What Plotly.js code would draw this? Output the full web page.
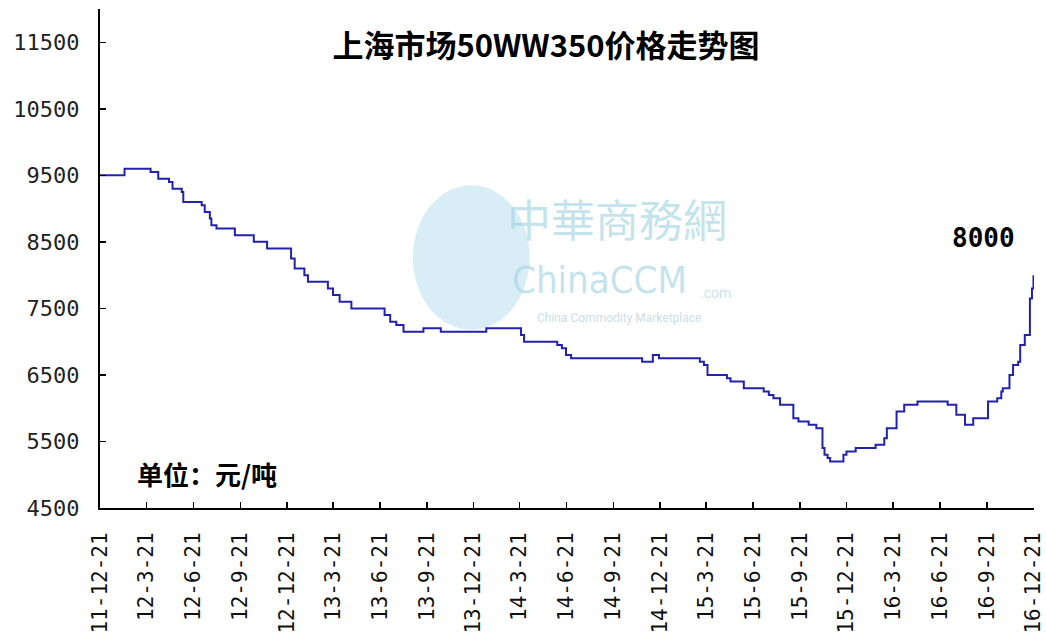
<!DOCTYPE html>
<html>
<head>
<meta charset="utf-8">
<script src="https://cdn.plot.ly/plotly-3.0.1.min.js"></script>
<style>html,body{margin:0;padding:0;background:#fff;}#chart{width:1046px;height:641px;}</style>
</head>
<body>
<div id="chart"></div>
<script>
// Step-change dates and Shanghai 50WW350 prices (yuan/ton)
const dates = [
  '2011-12-21','2012-02-07','2012-03-29','2012-04-13','2012-05-04','2012-05-11','2012-05-29','2012-06-01',
  '2012-07-07','2012-07-13','2012-07-23','2012-07-26','2012-08-05','2012-09-10','2012-10-17','2012-11-12',
  '2012-12-29','2013-01-05','2013-01-24','2013-01-31','2013-03-11','2013-03-21','2013-04-03','2013-04-26',
  '2013-06-30','2013-07-11','2013-07-23','2013-08-06','2013-09-14','2013-10-18','2014-01-15','2014-03-24',
  '2014-03-30','2014-06-03','2014-06-12','2014-06-20','2014-06-30','2014-11-16','2014-12-07','2014-12-19',
  '2015-03-09','2015-03-17','2015-03-24','2015-05-01','2015-05-08','2015-06-03','2015-07-12','2015-07-22',
  '2015-07-31','2015-08-13','2015-09-08','2015-09-18','2015-10-08','2015-10-23','2015-11-04','2015-11-08',
  '2015-11-14','2015-11-19','2015-12-15','2015-12-21','2016-01-08','2016-02-16','2016-03-04','2016-03-09',
  '2016-03-28','2016-04-12','2016-05-08','2016-07-06','2016-07-23','2016-08-09','2016-08-25','2016-09-23',
  '2016-10-11','2016-10-19','2016-10-22','2016-11-04','2016-11-11','2016-11-21','2016-11-25','2016-12-04',
  '2016-12-14','2016-12-18','2016-12-21'
];
const prices = [
  9500,9600,9550,9450,9400,9300,9250,9100,
  9050,8950,8850,8750,8700,8600,8500,8400,
  8250,8100,8000,7900,7800,7700,7600,7500,
  7400,7300,7250,7150,7200,7150,7200,7100,
  7000,6950,6900,6800,6750,6700,6800,6750,
  6700,6650,6500,6450,6400,6300,6250,6200,
  6150,6050,5850,5800,5750,5700,5400,5300,
  5250,5200,5300,5350,5400,5450,5550,5700,
  5950,6050,6100,6050,5900,5750,5850,6100,
  6150,6250,6300,6500,6650,6700,6950,7100,
  7650,7800,8000
];
const xTickVals = ['2011-12-21','2012-03-21','2012-06-21','2012-09-21','2012-12-21','2013-03-21','2013-06-21',
  '2013-09-21','2013-12-21','2014-03-21','2014-06-21','2014-09-21','2014-12-21','2015-03-21','2015-06-21',
  '2015-09-21','2015-12-21','2016-03-21','2016-06-21','2016-09-21','2016-12-21'];
const xTickText = ['11-12-21','12-3-21','12-6-21','12-9-21','12-12-21','13-3-21','13-6-21',
  '13-9-21','13-12-21','14-3-21','14-6-21','14-9-21','14-12-21','15-3-21','15-6-21',
  '15-9-21','15-12-21','16-3-21','16-6-21','16-9-21','16-12-21'];
const yTickVals = [4500,5500,6500,7500,8500,9500,10500,11500];
const titleText = '上海市场50WW350价格走势图';
const unitText = '单位：元/吨';
const lastLabel = '8000';

const monoFont = '"DejaVu Sans Mono", "Liberation Mono", monospace';
const cjkFont = '"Noto Sans CJK SC", "Noto Sans", sans-serif';
const wmColor = 'rgba(170,215,228,0.7)';

const trace = {
  x: dates, y: prices, type: 'scatter', mode: 'lines',
  line: {shape: 'hv', color: '#2222aa', width: 2},
  hoverinfo: 'x+y'
};

const layout = {
  width: 1046, height: 641,
  margin: {l: 100, r: 12, t: 9, b: 133},
  paper_bgcolor: '#ffffff', plot_bgcolor: 'rgba(0,0,0,0)',
  showlegend: false,
  title: {
    text: '<b>' + titleText + '</b>',
    font: {family: cjkFont, size: 31, color: '#000'},
    x: 0.522, xref: 'container', xanchor: 'center',
    y: 1 - 46/641, yref: 'container', yanchor: 'middle'
  },
  xaxis: {
    type: 'date',
    range: ['2011-12-21', '2016-12-22'],
    tickmode: 'array', tickvals: xTickVals, ticktext: xTickText,
    tickangle: -90,
    ticks: 'inside', ticklen: 6, tickwidth: 1.5, tickcolor: '#000',
    showline: true, linecolor: '#000', linewidth: 2,
    showgrid: false, zeroline: false,
    ticklabelstandoff: 14,
    ticklabeloverflow: 'allow',
    tickfont: {family: monoFont, size: 21, color: '#111'}
  },
  yaxis: {
    range: [4500, 12000],
    tickmode: 'array', tickvals: yTickVals,
    ticktext: yTickVals.map(String),
    ticks: 'inside', ticklen: 6, tickwidth: 1.5, tickcolor: '#000',
    showline: true, linecolor: '#000', linewidth: 2,
    showgrid: false, zeroline: false,
    ticklabelstandoff: 14,
    tickfont: {family: monoFont, size: 22, color: '#222'}
  },
  shapes: [
    {type: 'circle', xref: 'paper', yref: 'paper', layer: 'below',
     x0: 0.335, x1: 0.46, y0: 0.357, y1: 0.647,
     fillcolor: 'rgba(160,210,232,0.4)', line: {width: 0}}
  ],
  annotations: [
    {text: '中華商務網', xref: 'paper', yref: 'paper', x: 0.553, y: 0.581, xanchor: 'center', yanchor: 'middle',
     showarrow: false, font: {family: cjkFont, size: 44, color: wmColor}},
    {text: 'ChinaCCM', xref: 'paper', yref: 'paper', x: 0.535, y: 0.457, xanchor: 'center', yanchor: 'middle',
     showarrow: false, font: {family: '"DejaVu Sans Condensed", "Liberation Sans Narrow", "Roboto", sans-serif', size: 38, color: wmColor}},
    {text: '.com', xref: 'paper', yref: 'paper', x: 0.659, y: 0.43, xanchor: 'center', yanchor: 'middle',
     showarrow: false, font: {family: 'Roboto, sans-serif', size: 14, color: wmColor}},
    {text: 'China Commodity Marketplace', xref: 'paper', yref: 'paper', x: 0.556, y: 0.381, xanchor: 'center', yanchor: 'middle',
     showarrow: false, font: {family: 'Roboto, sans-serif', size: 12, color: 'rgba(180,205,220,0.7)'}},
    {text: '<b>' + lastLabel + '</b>', xref: 'paper', yref: 'paper', x: 0.9455, y: 0.541, xanchor: 'center', yanchor: 'middle',
     showarrow: false, font: {family: monoFont, size: 26, color: '#000'}},
    {text: '<b>' + unitText + '</b>', xref: 'paper', yref: 'paper', x: 0.1144, y: 0.07, xanchor: 'center', yanchor: 'middle',
     showarrow: false, font: {family: cjkFont, size: 26, color: '#000'}}
  ]
};

Plotly.newPlot('chart', [trace], layout, {displayModeBar: false, staticPlot: true});
</script>
</body>
</html>
